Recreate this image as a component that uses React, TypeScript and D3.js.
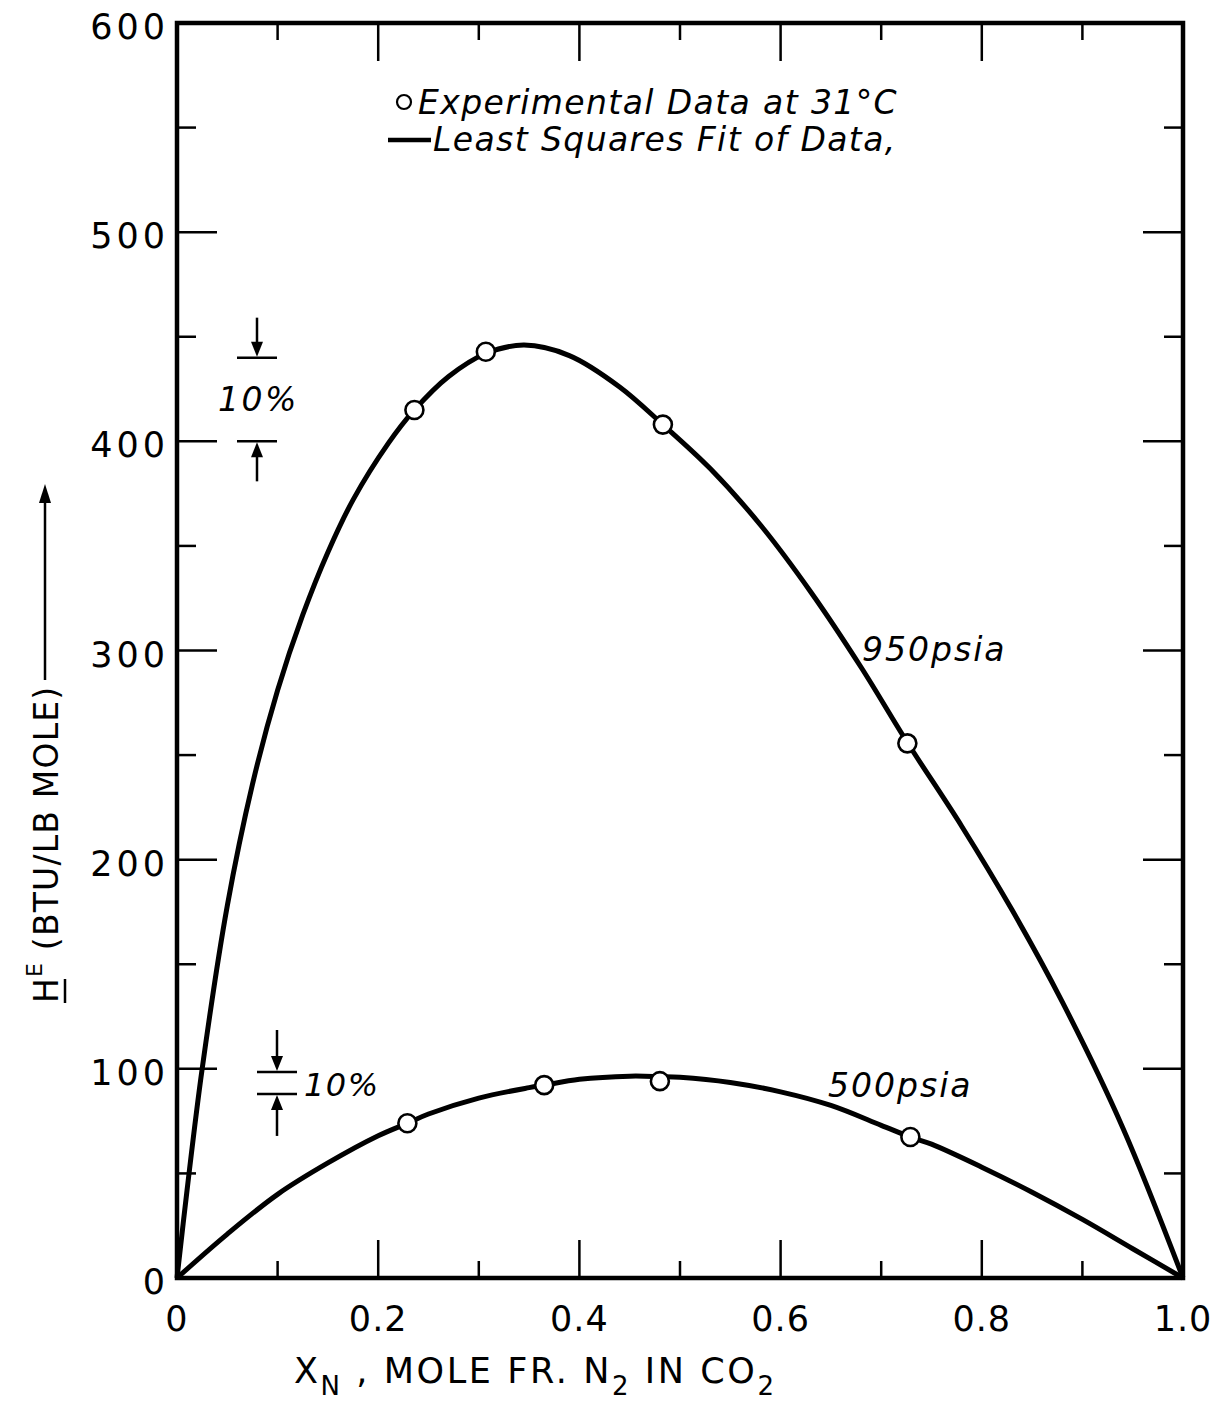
import React from "react";
import * as d3 from "d3";

// Excess enthalpy of N2–CO2 mixtures at 31 °C
const expX950 = [0.236, 0.307, 0.483, 0.726];
const expH950 = [415, 442.8, 408, 255.6];
const expX500 = [0.229, 0.365, 0.48, 0.729];
const expH500 = [74, 92.2, 94.1, 67.4];

// Least-squares fit curves
const fitX950 = [0, 0.01, 0.025, 0.05, 0.075, 0.1, 0.125, 0.15, 0.175, 0.21, 0.236, 0.27, 0.307, 0.345, 0.39, 0.44, 0.483, 0.53, 0.58, 0.63, 0.68, 0.726, 0.78, 0.83, 0.88, 0.94, 1.0];
const fitH950 = [0, 42, 100, 178, 236, 281, 317, 347, 372, 399, 415, 431, 442, 446, 441, 426, 408, 387, 360, 328, 292, 256, 216, 176, 132, 72, 0];
const fitX500 = [0, 0.05, 0.1, 0.15, 0.2, 0.229, 0.25, 0.3, 0.35, 0.365, 0.4, 0.45, 0.48, 0.5, 0.55, 0.6, 0.65, 0.7, 0.729, 0.75, 0.8, 0.85, 0.9, 0.95, 1.0];
const fitH500 = [0, 21, 40, 55, 68, 74, 78.4, 86, 91, 92.2, 95, 96.5, 96.3, 96, 93.5, 89, 82.5, 73, 67.4, 64, 53, 41, 28, 14, 0];

const xTickValues = [0.1, 0.2, 0.3, 0.4, 0.5, 0.6, 0.7, 0.8, 0.9];
const xTickLabels = ["0", "0.2", "0.4", "0.6", "0.8", "1.0"];
const xLabelValues = [0, 0.2, 0.4, 0.6, 0.8, 1.0];
const yTickValues = [50, 100, 150, 200, 250, 300, 350, 400, 450, 500, 550];
const yLabelValues = [0, 100, 200, 300, 400, 500, 600];

// Error-band markers (±10%)
const band950 = [400, 440];
const band500 = [88, 98.5];

const W = 1215;
const H = 1405;
const FONT = "'DejaVu Sans', sans-serif";

export default function App() {
  const x = d3.scaleLinear().domain([0, 1]).range([177, 1183]);
  const y = d3.scaleLinear().domain([0, 600]).range([1278, 23]);

  const line = d3
    .line<[number, number]>()
    .x((d) => x(d[0]))
    .y((d) => y(d[1]))
    .curve(d3.curveCatmullRom.alpha(0.5));

  const path950 = line(fitX950.map((v, i) => [v, fitH950[i]]))!;
  const path500 = line(fitX500.map((v, i) => [v, fitH500[i]]))!;

  const [x0, x1] = x.range();
  const [yb, yt] = y.range();

  const arrowDown = (cx: number, tipY: number) =>
    `M${cx - 6},${tipY - 15} L${cx + 6},${tipY - 15} L${cx},${tipY} Z`;
  const arrowUp = (cx: number, tipY: number) =>
    `M${cx - 6},${tipY + 15} L${cx + 6},${tipY + 15} L${cx},${tipY} Z`;

  const bandMarker = (cx: number, halfW: number, vals: number[], stemLen: number) => {
    const yLo = y(vals[0]);
    const yHi = y(vals[1]);
    return (
      <g stroke="#000" fill="#000">
        <line x1={cx - halfW} x2={cx + halfW} y1={yHi} y2={yHi} strokeWidth={2.5} />
        <line x1={cx - halfW} x2={cx + halfW} y1={yLo} y2={yLo} strokeWidth={2.5} />
        <line x1={cx} x2={cx} y1={yHi - stemLen} y2={yHi - 10} strokeWidth={2.5} />
        <line x1={cx} x2={cx} y1={yLo + 10} y2={yLo + stemLen} strokeWidth={2.5} />
        <path d={arrowDown(cx, yHi - 1)} stroke="none" />
        <path d={arrowUp(cx, yLo + 1)} stroke="none" />
      </g>
    );
  };

  return (
    <svg
      width={W}
      height={H}
      viewBox={`0 0 ${W} ${H}`}
      style={{ position: "absolute", left: 0, top: 0, background: "#fff" }}
      fontFamily={FONT}
    >
      <rect x={0} y={0} width={W} height={H} fill="#fff" />

      {/* ticks, inward on all four sides */}
      <g stroke="#000" strokeWidth={2.5}>
        {xTickValues.map((v, i) => {
          const len = i % 2 === 1 ? 38 : 17;
          return (
            <g key={"xt" + v}>
              <line x1={x(v)} x2={x(v)} y1={yb} y2={yb - len} />
              <line x1={x(v)} x2={x(v)} y1={yt} y2={yt + len} />
            </g>
          );
        })}
        {yTickValues.map((v) => {
          const len = v % 100 === 0 ? 40 : 19;
          return (
            <g key={"yt" + v}>
              <line x1={x0} x2={x0 + len} y1={y(v)} y2={y(v)} />
              <line x1={x1} x2={x1 - len} y1={y(v)} y2={y(v)} />
            </g>
          );
        })}
      </g>

      {/* frame */}
      <rect
        x={x0}
        y={yt}
        width={x1 - x0}
        height={yb - yt}
        fill="none"
        stroke="#000"
        strokeWidth={4.5}
      />

      {/* tick labels */}
      <g fontSize={35} fill="#000">
        {xLabelValues.map((v, i) => (
          <text key={"xl" + v} x={x(v)} y={1331} textAnchor="middle" letterSpacing={1}>
            {xTickLabels[i]}
          </text>
        ))}
        {yLabelValues.map((v) => (
          <text key={"yl" + v} x={169} y={y(v) + 16} textAnchor="end" letterSpacing={4}>
            {v}
          </text>
        ))}
      </g>

      {/* x axis title */}
      <text x={294} y={1383} fontSize={35} fill="#000" letterSpacing={2.6}>
        X
        <tspan fontSize={26} dy={12}>N</tspan>
        <tspan dy={-12}> , MOLE FR. N</tspan>
        <tspan fontSize={26} dy={12}>2</tspan>
        <tspan dy={-12}> IN CO</tspan>
        <tspan fontSize={26} dy={12}>2</tspan>
      </text>

      {/* y axis title */}
      <g transform="translate(58,1003) rotate(-90)">
        <text x={0} y={0} fontSize={33} fill="#000" letterSpacing={1.2}>
          H
          <tspan fontSize={22} dy={-16}>E</tspan>
          <tspan dy={16}>  (BTU/LB MOLE)</tspan>
        </text>
        <line x1={0} x2={24} y1={7} y2={7} stroke="#000" strokeWidth={2.5} />
      </g>
      <line x1={45} x2={45} y1={680} y2={500} stroke="#000" strokeWidth={2.5} />
      <path d="M39,503 L51,503 L45,484 Z" fill="#000" />

      {/* fitted curves */}
      <path d={path950} fill="none" stroke="#000" strokeWidth={5} strokeLinejoin="round" />
      <path d={path500} fill="none" stroke="#000" strokeWidth={5} strokeLinejoin="round" />

      {/* experimental points */}
      <g fill="#fff" stroke="#000" strokeWidth={2.6}>
        {expX950.map((v, i) => (
          <circle key={"p950" + v} cx={x(v)} cy={y(expH950[i])} r={9} />
        ))}
        {expX500.map((v, i) => (
          <circle key={"p500" + v} cx={x(v)} cy={y(expH500[i])} r={9} />
        ))}
      </g>

      {/* curve labels */}
      <g fontSize={33} fontStyle="italic" fill="#000" letterSpacing={2}>
        <text x={862} y={661}>950psia</text>
        <text x={828} y={1097}>500psia</text>
      </g>

      {/* legend */}
      <g fontSize={33} fontStyle="italic" fill="#000" letterSpacing={1.4}>
        <circle cx={404} cy={102} r={7} fill="#fff" stroke="#000" strokeWidth={2.2} />
        <text x={418} y={114}>Experimental Data at  31°C</text>
        <line x1={388} x2={431} y1={140} y2={140} stroke="#000" strokeWidth={4.5} />
        <text x={433} y={151}>Least Squares Fit of Data,</text>
      </g>

      {/* ±10% markers */}
      {bandMarker(257, 20, band950, 40)}
      <text x={218} y={411} fontSize={33} fontStyle="italic" fill="#000" letterSpacing={2.5}>10%</text>
      {bandMarker(277, 20, band500, 42)}
      <text x={304} y={1096} fontSize={32} fontStyle="italic" fill="#000" letterSpacing={1.5}>10%</text>
    </svg>
  );
}
